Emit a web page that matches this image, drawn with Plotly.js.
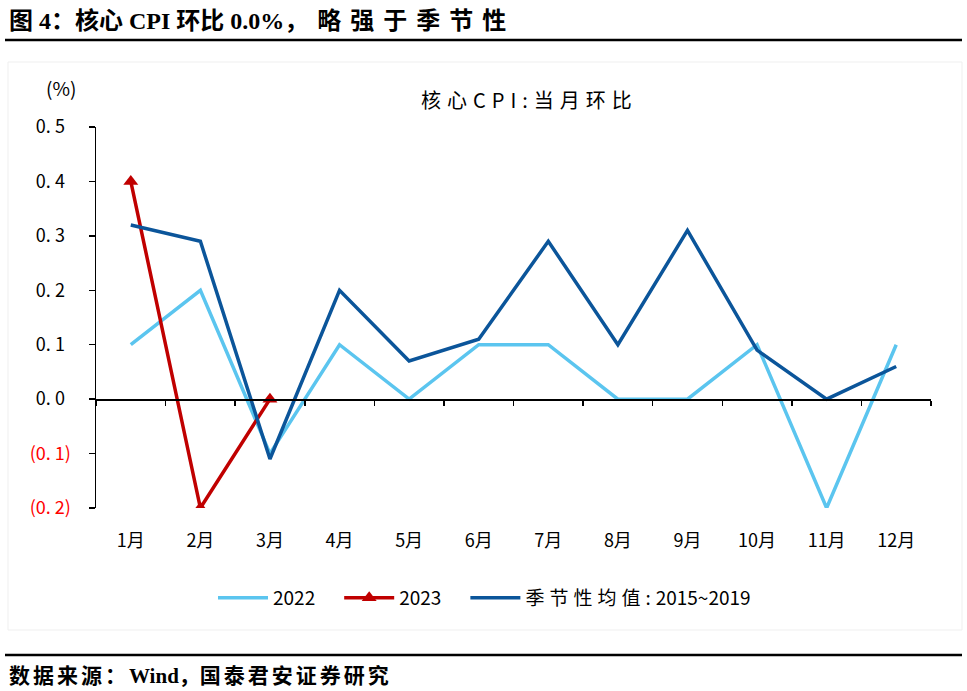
<!DOCTYPE html>
<html>
<head>
<meta charset="utf-8">
<script src="https://cdn.plot.ly/plotly-3.0.1.min.js"></script>
<style>
html,body{margin:0;padding:0;background:#fff;}
#chart{width:967px;height:691px;}
</style>
</head>
<body>
<div id="chart"></div>
<script>
// ---- data ----
var months = ['1月','2月','3月','4月','5月','6月','7月','8月','9月','10月','11月','12月'];
var y2022 = [0.1, 0.2, -0.1, 0.1, 0.0, 0.1, 0.1, 0.0, 0.0, 0.1, -0.2, 0.1];
var months2023 = ['1月','2月','3月'];
var y2023 = [0.4, -0.2, 0.0];
var seasonal = [0.32, 0.29, -0.11, 0.20, 0.07, 0.11, 0.29, 0.10, 0.31, 0.09, 0.00, 0.06];
var yTickVals = [0.5, 0.4, 0.3, 0.2, 0.1, 0.0, -0.1, -0.2];
var yTickText = ['0. 5\u2004','0. 4\u2004','0. 3\u2004','0. 2\u2004','0. 1\u2004','0. 0\u2004',
  '<span style="color:#ff0000">(0. 1)</span>','<span style="color:#ff0000">(0. 2)</span>'];

// ---- layout helpers (pixel -> paper) ----
var W = 967, H = 691;
var mL = 96, mR = 36, mT = 127, mB = 183;
var pw = W - mL - mR, ph = H - mT - mB;
function px(x){ return (x - mL) / pw; }
function py(y){ return (H - mB - y) / ph; }

var cjk = '"Noto Sans CJK SC", "Liberation Sans", sans-serif';
var serif = '"Liberation Serif", "Noto Sans CJK SC", serif';

var traces = [
  {x: months, y: y2022, name: '2022\u2002\u2002', type: 'scatter', mode: 'lines',
   line: {color: '#5BC5EF', width: 3.5}},
  {x: months2023, y: y2023, name: '2023\u2002\u2002', type: 'scatter', mode: 'lines+markers',
   line: {color: '#C00000', width: 3.5},
   marker: {symbol: 'triangle-up', size: 13, color: '#C00000'}},
  {x: months, y: seasonal, name: '<span style="letter-spacing:5px">季节性均值:</span>2015~2019', type: 'scatter', mode: 'lines',
   line: {color: '#0B559A', width: 3.5}},
  {x: months, y: y2022, xaxis: 'x2', type: 'scatter', mode: 'none',
   showlegend: false, hoverinfo: 'skip'}
];

var layout = {
  width: W, height: H,
  margin: {l: mL, r: mR, t: mT, b: mB},
  paper_bgcolor: '#ffffff', plot_bgcolor: 'rgba(0,0,0,0)',
  font: {family: cjk, color: '#000'},
  showlegend: true,
  legend: {orientation: 'h', x: px(213), xanchor: 'left', y: py(598), yanchor: 'middle',
    itemwidth: 50,
    font: {family: cjk, size: 19, color: '#000'}, bgcolor: 'rgba(0,0,0,0)', traceorder: 'normal'},
  xaxis: {type: 'category', categoryarray: months, categoryorder: 'array', range: [-0.5, 11.5],
    showline: false, showgrid: false, zeroline: false,
    ticks: 'outside', ticklen: 16, tickcolor: 'rgba(0,0,0,0)',
    tickfont: {family: cjk, size: 18, color: '#000'}, fixedrange: true},
  xaxis2: {type: 'category', categoryarray: months, categoryorder: 'array',
    overlaying: 'x', matches: 'x', anchor: 'free', position: py(399),
    showline: true, linecolor: '#000', linewidth: 1.5,
    ticks: 'outside', tickson: 'boundaries', ticklen: 5, tickwidth: 1.5, tickcolor: '#000',
    showticklabels: false, showgrid: false, zeroline: false},
  yaxis: {range: [-0.2, 0.5], tickvals: yTickVals, ticktext: yTickText,
    showline: true, linecolor: '#000', linewidth: 1.5,
    ticks: 'outside', ticklen: 6, tickwidth: 1.5, tickcolor: '#000',
    ticklabelstandoff: 14,
    showgrid: false, zeroline: false,
    tickfont: {family: cjk, size: 18, color: '#000'}, fixedrange: true},
  annotations: [
    {xref: 'paper', yref: 'paper', x: px(419), y: py(100), xanchor: 'left', yanchor: 'middle',
     text: '<span style="letter-spacing:6px">核心CPI:当月环比</span>', showarrow: false,
     font: {family: cjk, size: 20, color: '#000'}},
    {xref: 'paper', yref: 'paper', x: px(61), y: py(88), xanchor: 'center', yanchor: 'middle',
     text: '(%)', showarrow: false, font: {family: cjk, size: 19, color: '#000'}},
    {xref: 'paper', yref: 'paper', x: px(7), y: py(21), xanchor: 'left', yanchor: 'middle',
     text: '<b>图 4：核心 CPI 环比 0.0%<span style="letter-spacing:9px">，略强于季节性</span></b>', showarrow: false,
     font: {family: serif, size: 24, color: '#000'}},
    {xref: 'paper', yref: 'paper', x: px(7), y: py(676), xanchor: 'left', yanchor: 'middle',
     text: '<b><span style="letter-spacing:3px">数据来源：</span>Wind，<span style="letter-spacing:3px">国泰君安证券研究</span></b>', showarrow: false,
     font: {family: serif, size: 21, color: '#000'}}
  ],
  shapes: [
    {type: 'line', xref: 'paper', yref: 'paper', x0: px(5), x1: px(962), y0: py(40), y1: py(40),
     line: {color: '#000', width: 2.5}},
    {type: 'line', xref: 'paper', yref: 'paper', x0: px(5), x1: px(962), y0: py(655), y1: py(655),
     line: {color: '#000', width: 2.5}},
    {type: 'rect', xref: 'paper', yref: 'paper', x0: px(8), x1: px(962), y0: py(62), y1: py(630),
     line: {color: '#efefef', width: 1}, layer: 'below'}
  ]
};

Plotly.newPlot('chart', traces, layout, {staticPlot: true, displayModeBar: false});
</script>
</body>
</html>
